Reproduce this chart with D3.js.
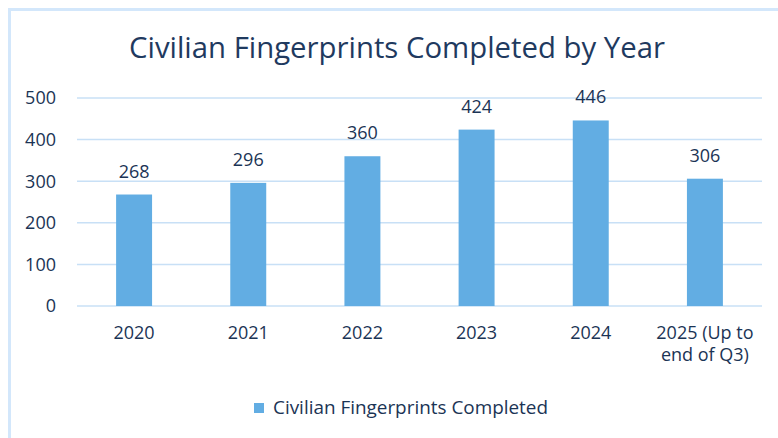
<!DOCTYPE html>
<html>
<head>
<meta charset="utf-8">
<script src="https://cdn.jsdelivr.net/npm/d3@7"></script>
<style>
  body { margin: 0; background: #fff; }
  text { font-family: "Open Sans", sans-serif; fill: #1b3455; }
</style>
</head>
<body>
<div id="chart"></div>
<script>
// data
const years = ["2020", "2021", "2022", "2023", "2024", "2025 (Up to|end of Q3)"];
const completed = [268, 296, 360, 424, 446, 306];
const yTicks = [0, 100, 200, 300, 400, 500];
const seriesName = "Civilian Fingerprints Completed";
const chartTitle = "Civilian Fingerprints Completed by Year";

const width = 778, height = 438;
const barColor = "#62ade3";
const gridColor = "#c8e0f6";

const svg = d3.select("#chart").append("svg")
  .attr("width", width)
  .attr("height", height);

// outer frame (only top and left edges show)
svg.append("path")
  .attr("d", `M9.5,${height} V9.5 H${width}`)
  .attr("fill", "none")
  .attr("stroke", "#d3e7fb")
  .attr("stroke-width", 3);

// title
svg.append("text")
  .attr("x", 397).attr("y", 58)
  .attr("text-anchor", "middle")
  .attr("textLength", 536)
  .attr("lengthAdjust", "spacingAndGlyphs")
  .style("font-size", "30px")
  .style("fill", "#1f3a5f")
  .text(chartTitle);

const x = d3.scaleBand()
  .domain(years)
  .range([77, 762])
  .padding(0);

const y = d3.scaleLinear()
  .domain([0, 500])
  .range([306, 98]);

const barW = x.bandwidth() * 0.315;

// gridlines
svg.append("g")
  .selectAll("line")
  .data(yTicks)
  .join("line")
  .attr("x1", 77).attr("x2", 762)
  .attr("y1", d => y(d)).attr("y2", d => y(d))
  .attr("stroke", gridColor)
  .attr("stroke-width", 1.5);

// y tick labels
svg.append("g")
  .selectAll("text")
  .data(yTicks)
  .join("text")
  .attr("x", 56)
  .attr("y", d => y(d))
  .attr("dy", "0.36em")
  .attr("text-anchor", "end")
  .style("font-size", "18px")
  .text(d => d);

// bars
svg.append("g")
  .selectAll("rect")
  .data(completed)
  .join("rect")
  .attr("x", (d, i) => x(years[i]) + x.bandwidth() / 2 - barW / 2)
  .attr("y", d => y(d))
  .attr("width", barW)
  .attr("height", d => y(0) - y(d))
  .attr("fill", barColor);

// value labels
svg.append("g")
  .selectAll("text")
  .data(completed)
  .join("text")
  .attr("x", (d, i) => x(years[i]) + x.bandwidth() / 2)
  .attr("y", d => y(d) - 17)
  .attr("text-anchor", "middle")
  .style("font-size", "18px")
  .text(d => d);

// category labels (| marks a line break)
const xl = svg.append("g")
  .selectAll("text")
  .data(years)
  .join("text")
  .attr("x", d => x(d) + x.bandwidth() / 2)
  .attr("y", 339)
  .attr("text-anchor", "middle")
  .style("font-size", "18px");
xl.selectAll("tspan")
  .data(d => d.split("|"))
  .join("tspan")
  .attr("x", function () { return this.parentNode.getAttribute("x"); })
  .attr("dy", (d, i) => i ? 22 : 0)
  .text(d => d);

// legend
const lg = svg.append("g").attr("transform", "translate(254,403)");
lg.append("rect")
  .attr("width", 10).attr("height", 10)
  .attr("fill", barColor);
lg.append("text")
  .attr("x", 19).attr("y", 5)
  .attr("dy", "0.36em")
  .attr("textLength", 275)
  .attr("lengthAdjust", "spacingAndGlyphs")
  .style("font-size", "18px")
  .text(seriesName);
</script>
</body>
</html>
